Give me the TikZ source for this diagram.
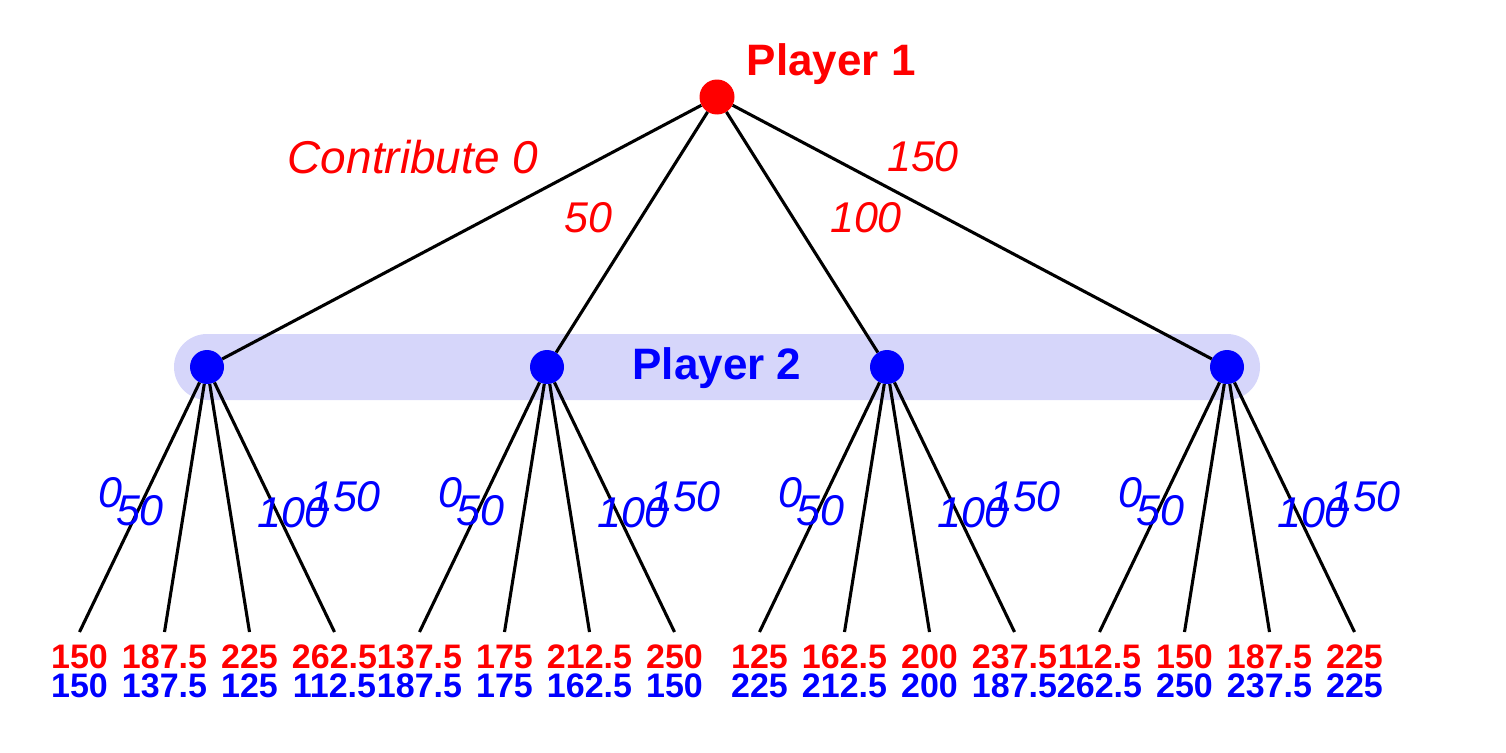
\documentclass[tikz,border=0pt]{standalone}
\usepackage{fontspec}
\setmainfont{Liberation Sans}
\usetikzlibrary{positioning,calc}
\tikzset{
    % Define style for decision nodes
    dec/.style={
           circle,
           inner sep=0pt,
           minimum size=35pt},
    % Define branch style
    branch/.style={
           draw=black,
           line width=3.1pt},
    % Labels on the branches
    movelab/.style={
           inner sep=0pt,
           font=\fontsize{43}{43}\selectfont\itshape},
    % Player names
    plab/.style={
           inner sep=0pt,
           font=\fontsize{44}{44}\selectfont\bfseries},
    % Payoffs at the leaves
    pay/.style={
           inner sep=0pt,
           font=\fontsize{34}{34}\selectfont\bfseries}
}
\definecolor{bandblue}{RGB}{214,214,250}

\begin{document}
\begin{tikzpicture}[x=1pt,y=-1pt]
\useasboundingbox (0,0) rectangle (1506,752);

% Information set of player 2
\node[fill=bandblue, rounded corners=33pt, minimum width=1086pt, minimum height=66pt] (band) at (717,367) {};
\node[plab, text=blue] (p2lab) at (717,368) {Player 2};

% Root
\node[dec, fill=red] (p1) at (717,97) {};
\node[plab, text=red, right=12pt of p1, yshift=33pt] (p1lab) {Player 1};

% Second level
\foreach \x [count=\i] in {207,547,887,1227}
    \node[dec, fill=blue, minimum size=34pt] (q\i) at (\x,367) {};

% Branches of player 1
\foreach \i in {1,...,4}
    \draw[branch] (p1) -- (q\i);
\node[movelab, text=red, font=\fontsize{46}{46}\selectfont\itshape] (c0) at (413,157) {Contribute 0};
\node[movelab, text=red] (c50) at (588,218) {50};
\node[movelab, text=red] (c100) at (866,218) {100};
\node[movelab, text=red] (c150) at (923,157) {150};

% Leaves and payoffs
\foreach \x/\i in {207/1,547/2,887/3,1227/4} {
    \foreach \dx/\j in {-127.5/1,-42.5/2,42.5/3,127.5/4} {
        \coordinate (l\i\j) at (\x+\dx,632);
        \draw[branch] (q\i) -- (l\i\j);
    }
    \node[movelab, text=blue] (m\i a) at (\x-97,493) {0};
    \node[movelab, text=blue] (m\i b) at (\x-67,511) {50};
    \node[movelab, text=blue] (m\i c) at (\x+86,513) {100};
    \node[movelab, text=blue] (m\i d) at (\x+138,497) {150};
}

\foreach \i/\j/\r/\b in {1/1/150/150, 1/2/187.5/137.5, 1/3/225/125, 1/4/262.5/112.5,
                         2/1/137.5/187.5, 2/2/175/175, 2/3/212.5/162.5, 2/4/250/150,
                         3/1/125/225, 3/2/162.5/212.5, 3/3/200/200, 3/4/237.5/187.5,
                         4/1/112.5/262.5, 4/2/150/250, 4/3/187.5/237.5, 4/4/225/225} {
    \node[pay, text=red, anchor=base] (r\i\j) at ($(l\i\j)+(0,36)$) {\r};
    \node[pay, text=blue, anchor=base] (b\i\j) at ($(l\i\j)+(0,65)$) {\b};
}
\end{tikzpicture}
\end{document}
